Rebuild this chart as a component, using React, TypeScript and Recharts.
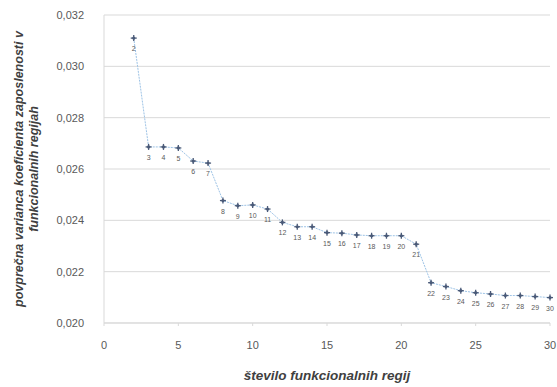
import React from "react";
import {
  LineChart,
  Line,
  XAxis,
  YAxis,
  CartesianGrid,
  LabelList,
} from "recharts";

// number of functional regions
const regions = [2, 3, 4, 5, 6, 7, 8, 9, 10, 11, 12, 13, 14, 15, 16, 17, 18, 19, 20, 21, 22, 23, 24, 25, 26, 27, 28, 29, 30];

// average variance of the employment coefficient
const variance = [
  0.0311, 0.02686, 0.02686, 0.02682, 0.02631, 0.02623, 0.02477, 0.02457, 0.0246,
  0.02444, 0.02392, 0.02375, 0.02375, 0.02352, 0.0235, 0.02343, 0.0234, 0.0234,
  0.0234, 0.02307, 0.02157, 0.02142, 0.02126, 0.02118, 0.02113, 0.02107, 0.02107,
  0.02103, 0.02099,
];

const xTicks = [0, 5, 10, 15, 20, 25, 30];
const yTicks = [0.02, 0.022, 0.024, 0.026, 0.028, 0.03, 0.032];

const data = regions.map((r, i) => ({ n: r, v: variance[i] }));

const font = "'Liberation Sans', Arial, sans-serif";

const Marker = (props: any) => {
  const { cx, cy, index } = props;
  if (cx == null || cy == null) return null;
  return (
    <g key={`m-${index}`}>
      <line x1={cx - 3} y1={cy} x2={cx + 3} y2={cy} stroke="#4a5a78" strokeWidth={1.3} />
      <line x1={cx} y1={cy - 3} x2={cx} y2={cy + 3} stroke="#4a5a78" strokeWidth={1.3} />
      <circle cx={cx} cy={cy} r={1.6} fill="#4a5a78" />
    </g>
  );
};

const YTitle = (props: any) => {
  const vb = props.viewBox || {};
  const cy = (vb.y ?? 15) + (vb.height ?? 308) / 2;
  const style = { fontSize: 12.5, fontStyle: "italic", fontWeight: "bold", fontFamily: font, fill: "#404040" };
  return (
    <g transform={`translate(0, ${cy}) rotate(-90)`}>
      <text x={0} y={23} textAnchor="middle" {...style}>
        povprečna varianca koeficienta zaposlenosti v
      </text>
      <text x={0} y={38} textAnchor="middle" {...style}>
        funkcionalnih regijah
      </text>
    </g>
  );
};

export default function App() {
  return (
    <div style={{ position: "absolute", left: 0, top: 0, background: "#fff" }}>
      <LineChart
        width={557}
        height={387}
        data={data}
        margin={{ top: 15, right: 7, bottom: 4, left: 0 }}
      >
        <CartesianGrid vertical={false} stroke="#d9d9d9" />
        <XAxis
          type="number"
          dataKey="n"
          domain={[0, 30]}
          ticks={xTicks}
          tickLine={{ stroke: "#d9d9d9" }}
          tickSize={3}
          tickMargin={15}
          axisLine={{ stroke: "#d9d9d9" }}
          height={60}
          tick={{ fontSize: 11, fill: "#595959", fontFamily: font }}
          label={{
            value: "število funkcionalnih regij",
            position: "insideBottom",
            offset: 3,
            fontSize: 13.5,
            fontStyle: "italic",
            fontWeight: "bold",
            fill: "#404040",
            fontFamily: font,
          }}
        />
        <YAxis
          type="number"
          domain={[0.02, 0.032]}
          ticks={yTicks}
          width={104}
          tickLine={false}
          axisLine={{ stroke: "#d9d9d9" }}
          tickMargin={14}
          tick={{ fontSize: 11, fill: "#595959", fontFamily: font }}
          tickFormatter={(v: number) => v.toFixed(3).replace(".", ",")}
          label={<YTitle />}
        />
        <Line
          type="linear"
          dataKey="v"
          stroke="#9dc3e6"
          strokeWidth={1}
          strokeDasharray="2 1"
          dot={Marker}
          activeDot={false}
          isAnimationActive={false}
        >
          <LabelList
            dataKey="n"
            position="bottom"
            offset={8}
            fontSize={7}
            fill="#595959"
            fontFamily={font}
          />
        </Line>
      </LineChart>
    </div>
  );
}
